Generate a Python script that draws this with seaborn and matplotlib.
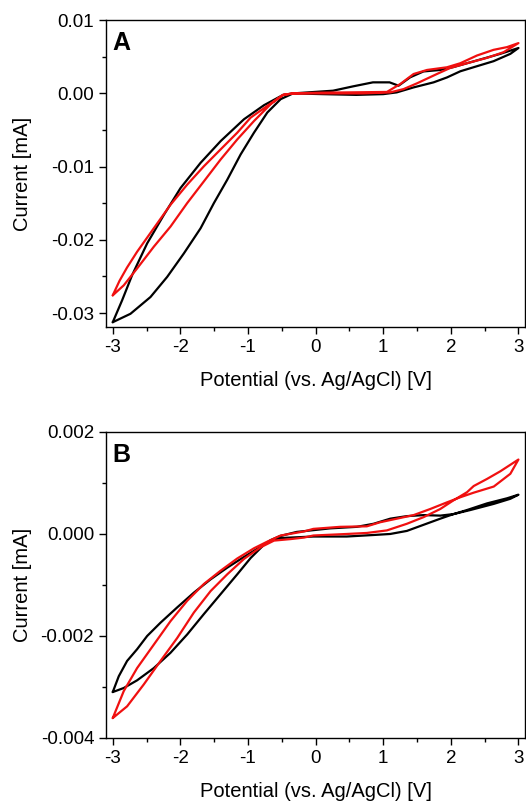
import numpy as np
import pandas as pd
import matplotlib
matplotlib.use("Agg")
import matplotlib.pyplot as plt
import seaborn as sns
from matplotlib.ticker import MultipleLocator, FormatStrFormatter

# ---- panel A (mA vs V) ----
a_black_fwd_x = [-3.0, -2.738, -2.442, -2.195, -1.948, -1.701, -1.504, -1.306, -1.109, -0.911, -0.714, -0.516,
                 -0.333, 0.1, 0.6, 1.0, 1.2, 1.449, 1.745, 1.943, 2.14, 2.385, 2.632, 2.88, 3.0]
a_black_fwd_y = [-0.03125, -0.0301, -0.02781, -0.02506, -0.02185, -0.01842, -0.01498, -0.01178, -0.00834,
                 -0.00536, -0.00261, -0.00078, 0.0, -0.0001, -0.0002, -0.0001, 0.00014, 0.00082, 0.00151,
                 0.00218, 0.00302, 0.00371, 0.0044, 0.0054, 0.0062]
a_black_rev_x = [3.0, 2.73, 2.385, 2.04, 1.843, 1.596, 1.399, 1.227, 1.094, 0.848, 0.553, 0.258, -0.333, -0.48,
                 -0.763, -1.059, -1.404, -1.701, -1.997, -2.244, -2.491, -2.714, -2.862, -3.0]
a_black_rev_y = [0.0062, 0.0054, 0.0045, 0.0036, 0.0032, 0.003, 0.0022, 0.00105, 0.00151, 0.00151, 0.00096,
                 0.00037, 0.0, -0.0002, -0.00161, -0.00353, -0.00651, -0.00948, -0.01292, -0.01659, -0.02048,
                 -0.02483, -0.02827, -0.03125]

a_red_fwd_x = [-3.0, -2.837, -2.64, -2.393, -2.146, -1.899, -1.652, -1.405, -1.158, -0.911, -0.664, -0.48,
               -0.333, 0.2, 0.7, 1.104, 1.301, 1.498, 1.794, 1.992, 2.238, 2.533, 2.78, 3.0]
a_red_fwd_y = [-0.02758, -0.02621, -0.02391, -0.02094, -0.01819, -0.01498, -0.01201, -0.00903, -0.00628,
               -0.00377, -0.00147, -0.0002, 0.0, 0.0, 0.0, 0.00014, 0.00059, 0.00137, 0.00265, 0.00348,
               0.00412, 0.00485, 0.00563, 0.00687]
a_red_rev_x = [3.0, 2.83, 2.632, 2.385, 2.14, 1.943, 1.647, 1.449, 1.252, 1.054, 0.6, 0.1, -0.333, -0.48,
               -0.714, -0.96, -1.158, -1.405, -1.652, -1.899, -2.146, -2.393, -2.64, -2.79, -2.9, -3.0]
a_red_rev_y = [0.00687, 0.00632, 0.00595, 0.00517, 0.00412, 0.00357, 0.0032, 0.00265, 0.00128, 0.0002,
               0.00015, 0.0001, 0.0, -0.0002, -0.0017, -0.0033, -0.00536, -0.00765, -0.00995, -0.01246,
               -0.01521, -0.01842, -0.02163, -0.0238, -0.0256, -0.02758]

# ---- panel B ----
b_black_fwd_x = [-3.0, -2.837, -2.64, -2.393, -2.146, -1.899, -1.652, -1.405, -1.158, -0.96, -0.763, -0.664,
                 -0.526, -0.033, 0.46, 0.857, 1.104, 1.35, 1.597, 1.844, 2.04, 2.29, 2.635, 2.88, 3.0]
b_black_fwd_y = [-0.0031, -0.00302, -0.00287, -0.00263, -0.00233, -0.00197, -0.00157, -0.00118, -0.00079,
                 -0.00047, -0.00021, -0.00013, -0.00008, -0.00005, -0.00005, -0.00002, 0.0, 0.00006, 0.00018,
                 0.0003, 0.00039, 0.00047, 0.00059, 0.00069, 0.00077]
b_black_rev_x = [3.0, 2.832, 2.536, 2.24, 2.04, 1.844, 1.597, 1.35, 1.104, 0.857, 0.61, 0.215, -0.28, -0.526,
                 -0.664, -0.812, -1.059, -1.306, -1.553, -1.8, -2.047, -2.294, -2.491, -2.64, -2.788, -2.911, -3.0]
b_black_rev_y = [0.00077, 0.0007, 0.0006, 0.00047, 0.00039, 0.00036, 0.00037, 0.00035, 0.0003, 0.0002,
                 0.00014, 0.00011, 0.00004, -0.00004, -0.00012, -0.00025, -0.00045, -0.00066, -0.00089, -0.00115,
                 -0.00144, -0.00174, -0.002, -0.00226, -0.00249, -0.00279, -0.0031]

b_red_fwd_x = [-3.0, -2.788, -2.541, -2.294, -2.047, -1.8, -1.553, -1.306, -1.059, -0.812, -0.615, -0.368,
               -0.17, -0.033, 0.46, 0.758, 1.054, 1.35, 1.597, 1.844, 2.04, 2.24, 2.338, 2.536, 2.733, 2.93, 3.0]
b_red_fwd_y = [-0.00361, -0.00338, -0.00295, -0.00249, -0.00204, -0.00154, -0.00112, -0.00079, -0.00049,
               -0.00026, -0.00013, -0.0001, -0.00007, -0.00003, 0.0, 0.00002, 0.00007, 0.0002, 0.00033,
               0.00049, 0.00066, 0.00082, 0.00094, 0.00108, 0.00123, 0.0014, 0.00146]
b_red_rev_x = [3.0, 2.88, 2.635, 2.338, 2.14, 1.943, 1.696, 1.449, 1.202, 0.955, 0.758, 0.362, -0.033, -0.17,
               -0.516, -0.714, -0.911, -1.158, -1.405, -1.652, -1.899, -2.146, -2.393, -2.64, -2.837, -3.0]
b_red_rev_y = [0.00146, 0.00118, 0.00093, 0.00081, 0.00072, 0.00062, 0.00049, 0.00037, 0.0003, 0.00023,
               0.00015, 0.00014, 0.0001, 0.00005, -0.00003, -0.00015, -0.00028, -0.00048, -0.00072, -0.00098,
               -0.00131, -0.00171, -0.00217, -0.00263, -0.00308, -0.00361]


def loop_df(fx, fy, rx, ry, name):
    # one closed CV loop: forward sweep then reverse sweep
    return pd.DataFrame({"x": fx + rx, "y": fy + ry, "run": name})


dfA = pd.concat([loop_df(a_black_fwd_x, a_black_fwd_y, a_black_rev_x, a_black_rev_y, "black"),
                 loop_df(a_red_fwd_x, a_red_fwd_y, a_red_rev_x, a_red_rev_y, "red")])
dfB = pd.concat([loop_df(b_black_fwd_x, b_black_fwd_y, b_black_rev_x, b_black_rev_y, "black"),
                 loop_df(b_red_fwd_x, b_red_fwd_y, b_red_rev_x, b_red_rev_y, "red")])

sns.set_style("ticks")
plt.rcParams["font.family"] = ["Liberation Sans", "DejaVu Sans"]
plt.rcParams["axes.unicode_minus"] = False
plt.rcParams["text.color"] = "black"
plt.rcParams["axes.labelcolor"] = "black"
plt.rcParams["xtick.color"] = "black"
plt.rcParams["ytick.color"] = "black"

fig = plt.figure(figsize=(5.26, 8.01), dpi=100)
axA = fig.add_axes([0.2015, 0.5918, 0.797, 0.383])
axB = fig.add_axes([0.2015, 0.0787, 0.797, 0.382])

pal = {"black": "black", "red": "#f01010"}

for ax, df, letter, ylim, ymaj, fmt in [
        (axA, dfA, "A", (-0.0319, 0.01), 0.01, "%.2f"),
        (axB, dfB, "B", (-0.004, 0.002), 0.002, "%.3f")]:
    sns.lineplot(data=df, x="x", y="y", hue="run", palette=pal, sort=False, estimator=None,
                 linewidth=1.6, legend=False, ax=ax)
    ax.set_xlim(-3.1, 3.1)
    ax.set_ylim(*ylim)
    ax.xaxis.set_major_locator(MultipleLocator(1))
    ax.xaxis.set_minor_locator(MultipleLocator(0.5))
    ax.yaxis.set_major_locator(MultipleLocator(ymaj))
    ax.yaxis.set_minor_locator(MultipleLocator(ymaj / 2))
    ax.yaxis.set_major_formatter(FormatStrFormatter(fmt))
    ax.tick_params(which="major", direction="out", length=5, width=1, labelsize=13.5)
    ax.tick_params(which="minor", direction="out", length=3, width=1)
    for s in ax.spines.values():
        s.set_linewidth(1)
        s.set_color("black")
    ax.set_xlabel("Potential (vs. Ag/AgCl) [V]", fontsize=14.5, labelpad=11)
    ax.set_ylabel("Current [mA]", fontsize=14.5)
    ax.yaxis.set_label_coords(-0.177, 0.5)
    ax.text(0.015, 0.965, letter, transform=ax.transAxes, ha="left", va="top",
            fontsize=18, fontweight="bold")

fig.savefig("out.png", dpi=100)
